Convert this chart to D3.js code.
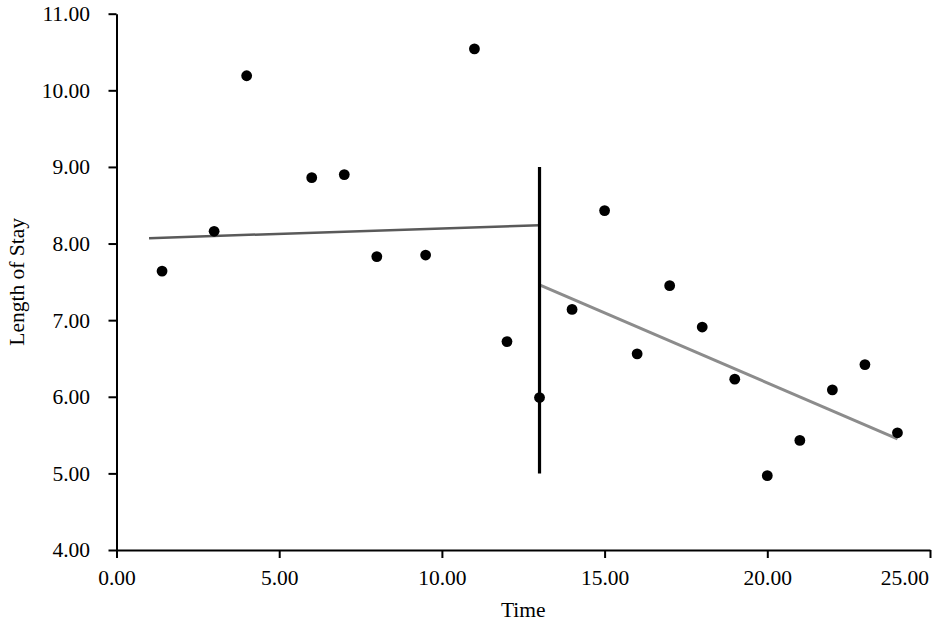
<!DOCTYPE html>
<html>
<head>
<meta charset="utf-8">
<script src="https://cdn.jsdelivr.net/npm/d3@7"></script>
<style>
  html, body { margin: 0; padding: 0; background: #fff; }
  svg { display: block; }
  text { font-family: "Liberation Serif", "Times New Roman", serif; fill: #000; }
</style>
</head>
<body>
<svg id="chart" width="935" height="626"></svg>
<script>
// Data
const timeValues = [1.4, 3, 4, 6, 7, 8, 9.5, 11, 12, 13, 14, 15, 16, 17, 18, 19, 20, 21, 22, 23, 24];
const stayValues = [7.64, 8.16, 10.19, 8.86, 8.90, 7.83, 7.85, 10.54, 6.72, 5.99, 7.14, 8.43, 6.56, 7.45, 6.91, 6.23, 4.97, 5.43, 6.09, 6.42, 5.53];
const preTrend = [[1, 8.07], [13, 8.24]];
const postTrend = [[13, 7.46], [24, 5.45]];
const interruption = [[13, 5.0], [13, 9.0]];
const xTicks = [0, 5, 10, 15, 20, 25];
const yTicks = [4, 5, 6, 7, 8, 9, 10, 11];

const W = 935, H = 626;
const margin = { left: 116.5, right: 5, top: 13.7, bottom: 76 };
const FS = "21.5px";
const svg = d3.select("#chart");

const x = d3.scaleLinear().domain([0, 25]).range([margin.left, W - margin.right]);
const y = d3.scaleLinear().domain([4, 11]).range([H - margin.bottom, margin.top]);

// Axes
const xAxis = d3.axisBottom(x).tickValues(xTicks).tickFormat(d3.format(".2f")).tickSize(8).tickSizeOuter(0).tickPadding(12);
const yAxis = d3.axisLeft(y).tickValues(yTicks).tickFormat(d3.format(".2f")).tickSize(8).tickSizeOuter(0).tickPadding(18.5);

const gx = svg.append("g").attr("transform", `translate(0,${y(4)})`).call(xAxis);
const gy = svg.append("g").attr("transform", `translate(${x(0)},0)`).call(yAxis);
[gx, gy].forEach(g => {
  g.selectAll("path.domain").attr("stroke", "#000").attr("stroke-width", 2);
  g.selectAll(".tick line").attr("stroke", "#000").attr("stroke-width", 2);
  g.selectAll(".tick text").style("font-family", '"Liberation Serif", serif').style("font-size", FS).attr("fill", "#000");
});
// keep the last x label inside the picture, as in the reference
gx.selectAll(".tick text").filter(d => d === 25)
  .attr("text-anchor", "end").attr("x", -1.5);

// Axis titles
svg.append("text")
  .attr("x", (x(0) + x(25)) / 2).attr("y", 617)
  .attr("text-anchor", "middle").style("font-size", FS).text("Time");
svg.append("text")
  .attr("transform", `translate(24,${(y(4) + y(11)) / 2}) rotate(-90)`)
  .attr("text-anchor", "middle").style("font-size", FS).text("Length of Stay");

const line = d3.line().x(d => x(d[0])).y(d => y(d[1]));

// Trend lines
svg.append("path").datum(preTrend).attr("d", line)
  .attr("fill", "none").attr("stroke", "#5a5a5a").attr("stroke-width", 2.5);
svg.append("path").datum(postTrend).attr("d", line)
  .attr("fill", "none").attr("stroke", "#8c8c8c").attr("stroke-width", 3);
svg.append("path").datum(interruption).attr("d", line)
  .attr("fill", "none").attr("stroke", "#000").attr("stroke-width", 3.2);

// Points
svg.append("g").selectAll("circle")
  .data(timeValues.map((t, i) => [t, stayValues[i]]))
  .join("circle")
  .attr("cx", d => x(d[0])).attr("cy", d => y(d[1]))
  .attr("r", 5.4).attr("fill", "#000");
</script>
</body>
</html>
